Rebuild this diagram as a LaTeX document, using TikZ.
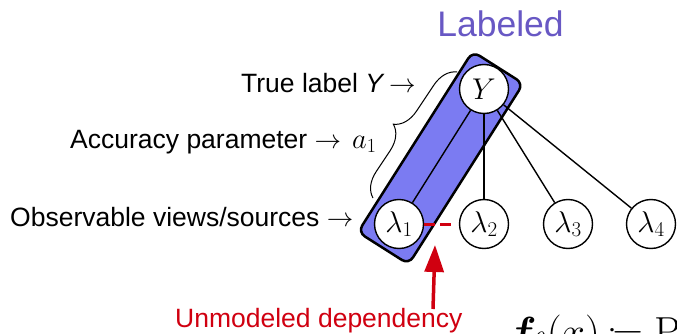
\RequirePackage{fix-cm}
\documentclass[tikz,border=0pt]{standalone}
\usepackage{fontspec}
\setsansfont{Liberation Sans}
\usepackage{bm}
\usetikzlibrary{calc,backgrounds,decorations.pathreplacing,arrows.meta}
\definecolor{grpblue}{RGB}{123,123,242}
\definecolor{depred}{RGB}{208,0,16}
\definecolor{titlepurple}{RGB}{104,88,196}
\begin{document}
\begin{tikzpicture}[x=1pt,y=-1pt,
  var/.style={circle,draw,line width=1.4pt,fill=white,minimum size=49pt,inner sep=0pt,font=\fontsize{30}{34}\selectfont},
  lbl/.style={font=\sffamily\fontsize{26.5}{30}\selectfont,anchor=base west,inner sep=0pt},
  edge/.style={line width=1.4pt},
  redline/.style={line width=3pt,draw=depred}]
\useasboundingbox (0,0) rectangle (677,334);
\clip (0,0) rectangle (677,334);
% variables
\node[var] (Y) at (484,89) {$Y$};
\node[var] (l1) at (399,224) {$\lambda_1$};
\node[var] (l2) at (484,224) {$\lambda_2$};
\node[var] (l3) at (568,224) {$\lambda_3$};
\node[var] (l4) at (651,224) {$\lambda_4$};
% group box
\begin{scope}[on background layer]
\node[draw,line width=2.5pt,fill=grpblue,rounded corners=8pt,rotate=57.6,
      minimum width=214pt,minimum height=60pt,inner sep=0pt] (grp) at ($(l1)!0.49!(Y)$) {};
\end{scope}
% edges
\draw[edge] (Y) -- (l1);
\draw[edge] (Y) -- (l2);
\draw[edge] (Y) -- (l3);
\draw[edge] (Y) -- (l4);
% unmodeled dependency
\draw[redline,dash pattern=on 11pt off 5pt,shorten >=7pt] (l1) -- (l2);
\coordinate (as) at (433,309);
\coordinate (at) at (435,245);
\draw[redline,line width=3.5pt,-{Triangle[width=19pt,length=27pt]}] (as) -- (at);
% brace
\coordinate (b1) at (373,198);
\coordinate (b2) at (457,72);
\draw[line width=1pt,decorate,decoration={brace,amplitude=24pt,aspect=0.48}] (b1) -- (b2);
% texts
\node[font=\sffamily\fontsize{35.5}{40}\selectfont,text=titlepurple,anchor=base,inner sep=0pt] (title) at (500.5,37) {Labeled};
\node[lbl] (tY) at (241,93) {True label \textit{Y}\,$\rightarrow$};
\node[lbl] (tA) at (70,148) {Accuracy parameter $\rightarrow$};
\node[lbl,font=\fontsize{28.5}{32}\selectfont] (a1) at (352,148) {$a_1$};
\node[lbl] (tO) at (10,226) {Observable views/sources $\rightarrow$};
\node[lbl,text=depred] (tU) at (175,327) {Unmodeled dependency};
\node[anchor=base west,inner sep=0pt,font=\fontsize{42}{48}\selectfont] (fx) at (508,346.5) {$\bm{f}_\theta(x)\,\mathord{:}\mkern-2mu\mathord{=}\;\mathrm{P}$};
\end{tikzpicture}
\end{document}
